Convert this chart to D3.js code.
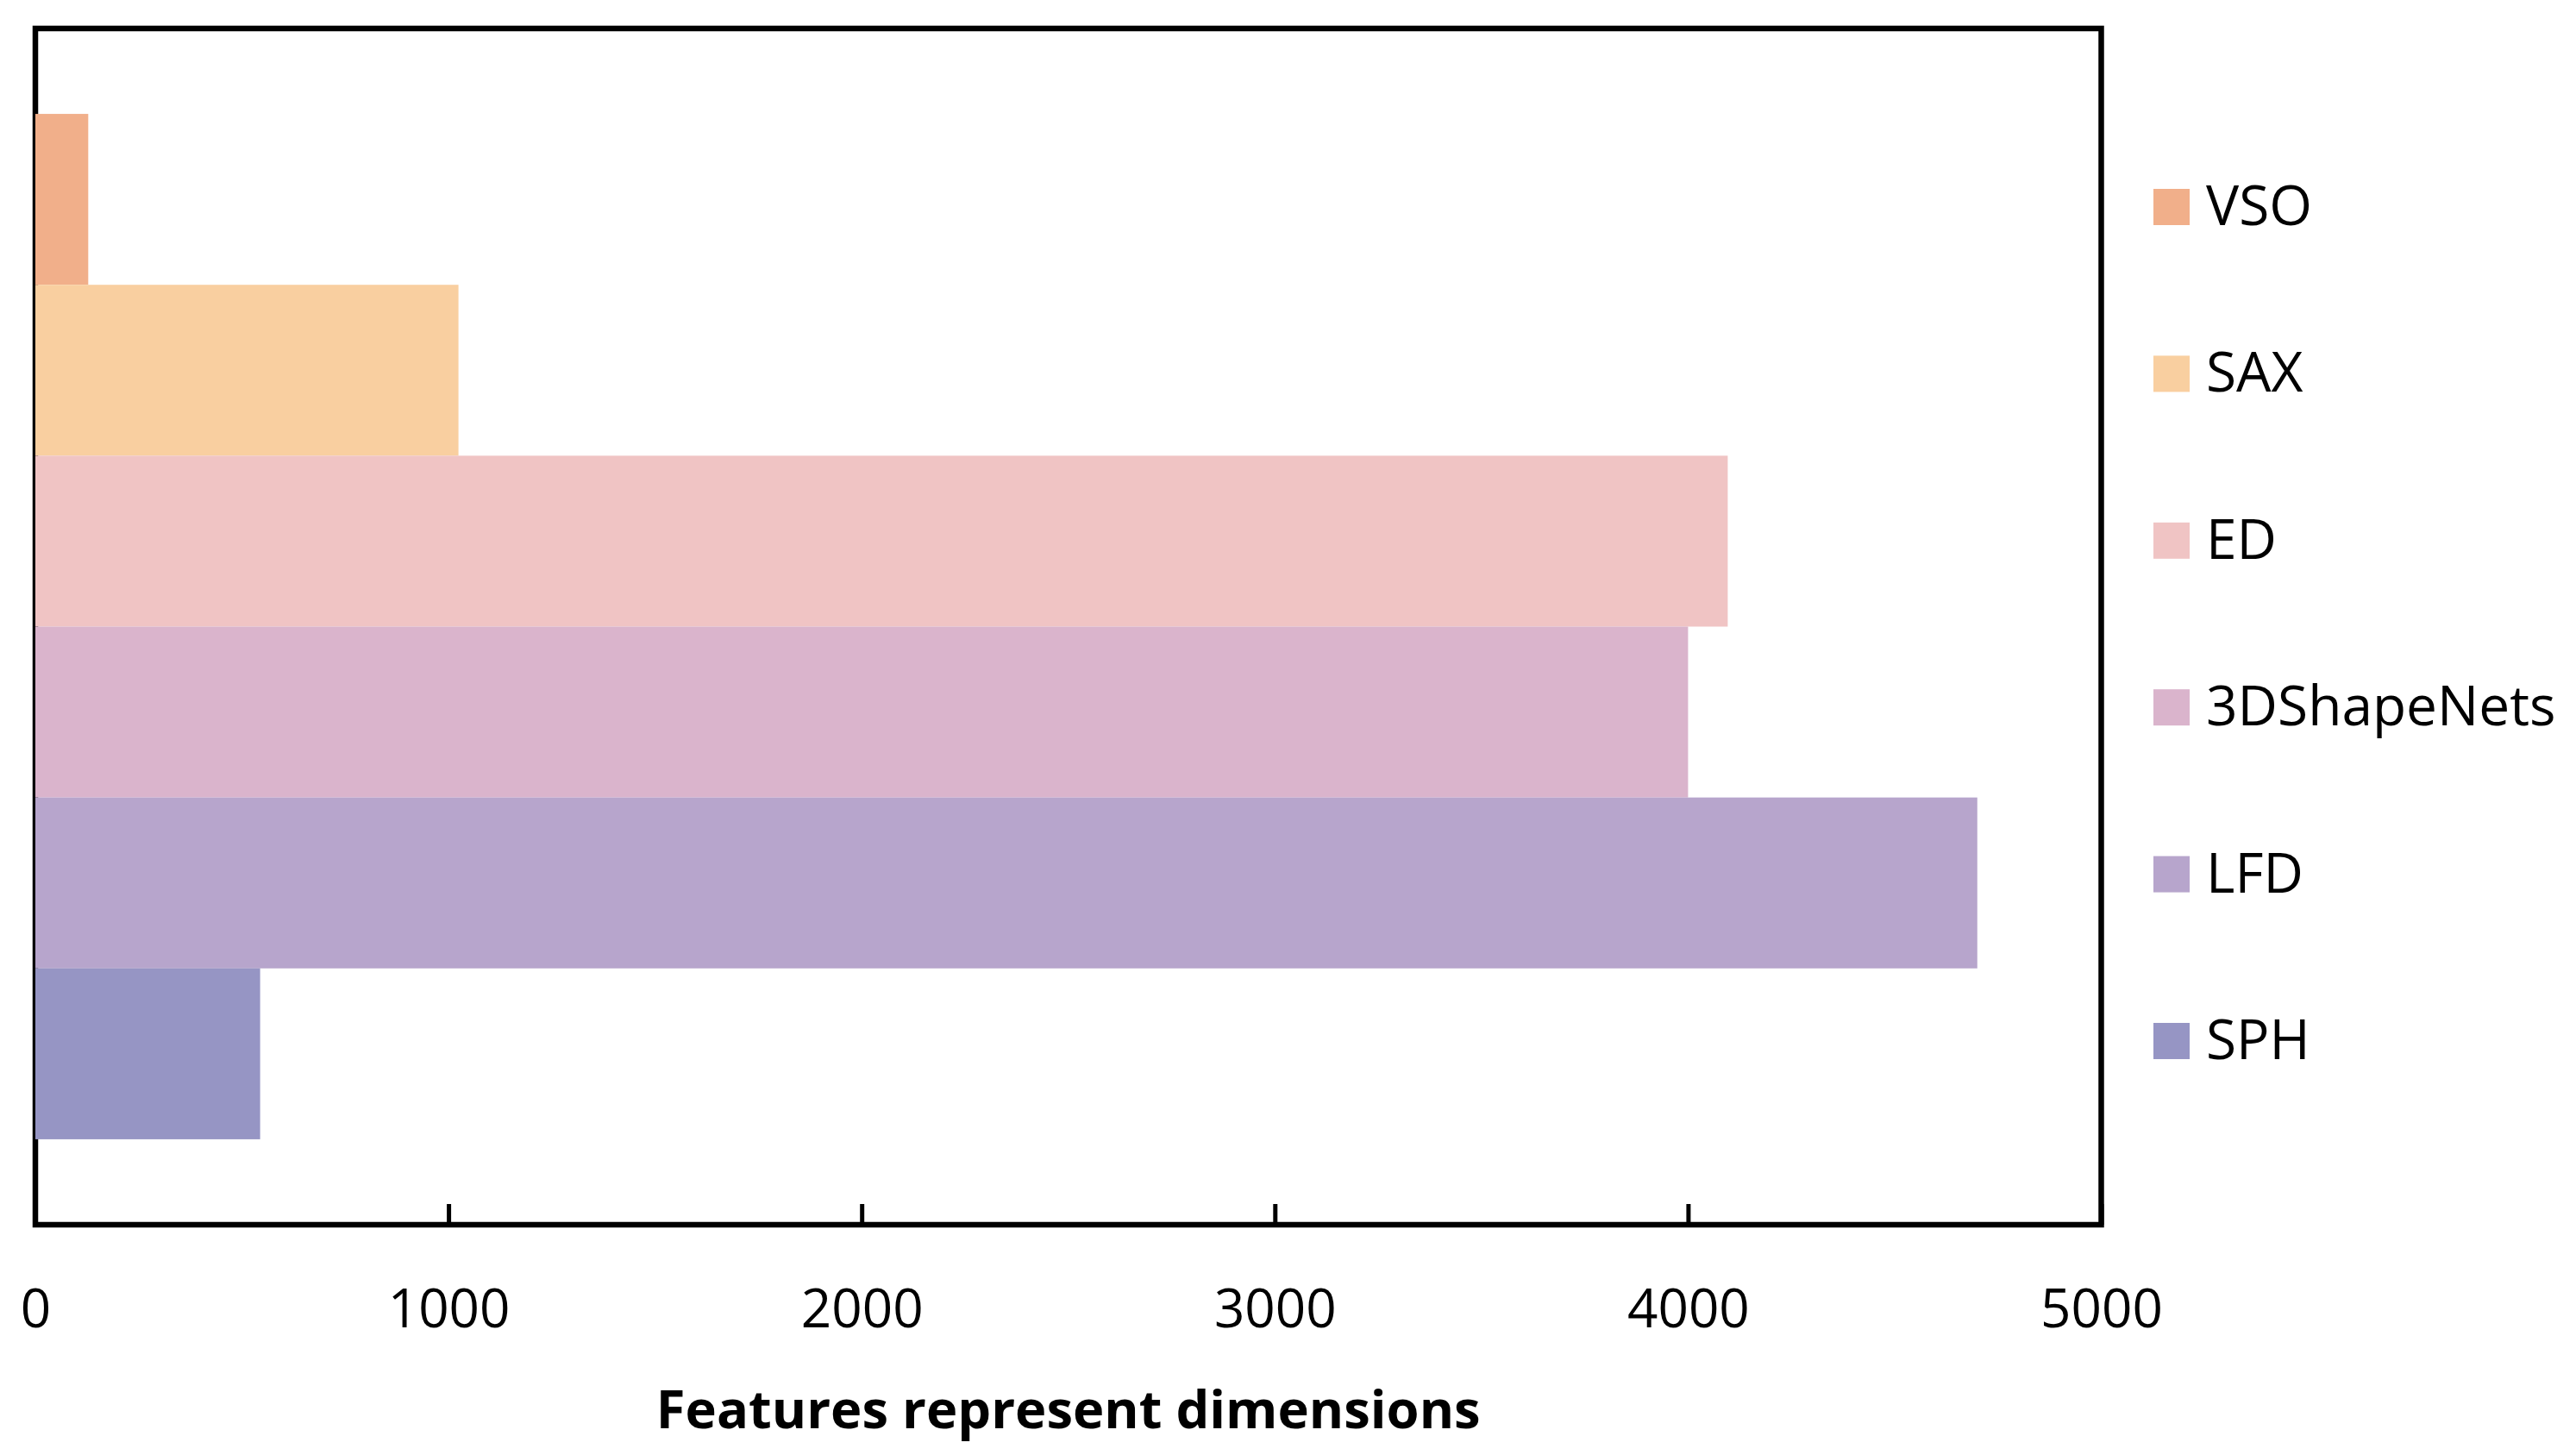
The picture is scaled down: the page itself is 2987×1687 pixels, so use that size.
<!DOCTYPE html>
<html>
<head>
<meta charset="utf-8">
<script src="https://cdn.jsdelivr.net/npm/d3@7"></script>
<style>
  html, body { margin: 0; padding: 0; background: #fff; }
  svg { display: block; }
  text { font-family: "Open Sans", "Noto Sans", sans-serif; fill: #000; }
</style>
</head>
<body>
<svg id="chart" width="2987" height="1687"></svg>
<script>
// ---- data ----
const categories = ["VSO", "SAX", "ED", "3DShapeNets", "LFD", "SPH"];
const values = [128, 1024, 4096, 4000, 4700, 544];
const colors = ["#F1AF8A", "#F9CFA0", "#F0C4C4", "#DAB4CC", "#B7A5CC", "#9695C4"];
const xTicks = [0, 1000, 2000, 3000, 4000, 5000];
const xTitle = "Features represent dimensions";

// ---- layout ----
const W = 2987, H = 1687;
const plot = { left: 41, right: 2436.5, top: 33, bottom: 1420 };

const svg = d3.select("#chart");
svg.append("rect").attr("width", W).attr("height", H).attr("fill", "#fff");

const x = d3.scaleLinear().domain([0, 5000]).range([plot.left, plot.right]);
const y = d3.scaleBand().domain(categories).range([plot.top, plot.bottom])
  .paddingInner(0).paddingOuter(0.5);

// frame
svg.append("rect")
  .attr("x", plot.left).attr("y", plot.top)
  .attr("width", plot.right - plot.left).attr("height", plot.bottom - plot.top)
  .attr("fill", "none").attr("stroke", "#000").attr("stroke-width", 6.5);

// bars
svg.append("g").selectAll("rect").data(categories).join("rect")
  .attr("x", x(0))
  .attr("y", d => y(d))
  .attr("width", (d, i) => x(values[i]) - x(0))
  .attr("height", y.bandwidth())
  .attr("fill", (d, i) => colors[i]);

// x axis
const axis = d3.axisBottom(x).tickValues(xTicks).tickSize(-24).tickFormat(d3.format("d"));
const gx = svg.append("g").attr("transform", `translate(0,${plot.bottom})`).call(axis);
gx.select(".domain").remove();
gx.selectAll(".tick line").attr("stroke", "#000").attr("stroke-width", 5);
gx.selectAll(".tick text")
  .attr("dy", null).attr("y", 119)
  .attr("font-size", 62)
  .attr("font-family", "'Open Sans', sans-serif")
  .attr("fill", "#000");

// x title
svg.append("text")
  .attr("x", (plot.left + plot.right) / 2)
  .attr("y", 1656)
  .attr("text-anchor", "middle")
  .attr("font-size", 61.5)
  .attr("font-weight", "bold")
  .text(xTitle);

// legend
const legendStep = 193.4;
const lg = svg.append("g").selectAll("g").data(categories).join("g")
  .attr("transform", (d, i) => `translate(2497,${261 + i * legendStep})`);
lg.append("rect")
  .attr("x", 0).attr("y", -42).attr("width", 42).attr("height", 42)
  .attr("fill", (d, i) => colors[i]);
lg.append("text")
  .attr("x", 61).attr("y", 0)
  .attr("font-size", 64)
  .text(d => d);
</script>
</body>
</html>
